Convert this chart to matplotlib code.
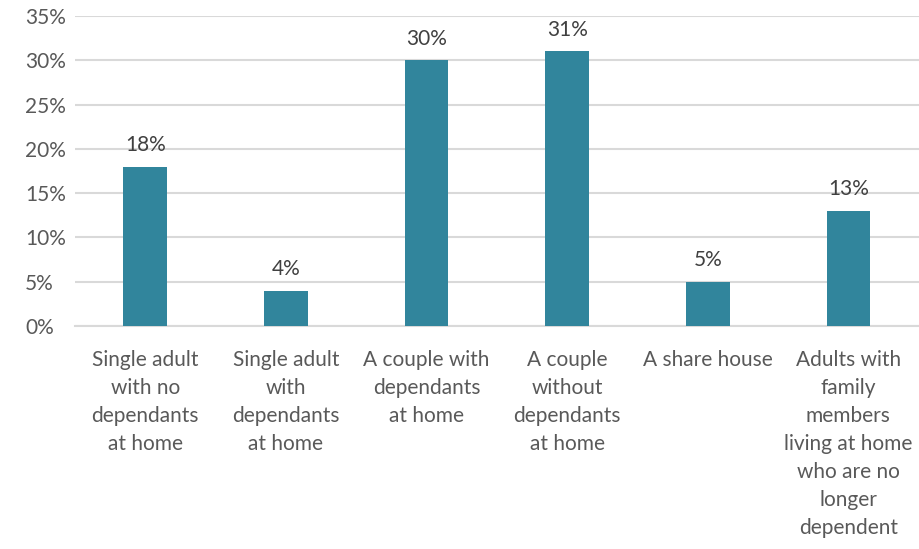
import matplotlib.pyplot as plt
from matplotlib.ticker import PercentFormatter

categories = [
    "Single adult\nwith no\ndependants\nat home",
    "Single adult\nwith\ndependants\nat home",
    "A couple with\ndependants\nat home",
    "A couple\nwithout\ndependants\nat home",
    "A share house",
    "Adults with\nfamily\nmembers\nliving at home\nwho are no\nlonger\ndependent",
]
values = [18, 4, 30, 31, 5, 13]
yticks = [0, 5, 10, 15, 20, 25, 30, 35]

plt.rcParams["font.family"] = ["Lato", "DejaVu Sans"]
text_color = "#595959"

fig = plt.figure(figsize=(9.19, 5.49), dpi=100)
ax = fig.add_axes([0.0816, 0.406, 0.918, 0.565])

x = list(range(len(values)))
ax.bar(x, values, width=0.31, color="#31859C", zorder=3)

for xi, v in zip(x, values):
    ax.text(xi, v + 1.3, f"{v}%", ha="center", va="bottom",
            fontsize=15, color="#404040")

ax.set_xlim(-0.5, len(values) - 0.5)
ax.set_ylim(0, 35)
ax.set_yticks(yticks)
ax.yaxis.set_major_formatter(PercentFormatter(decimals=0))
ax.set_xticks(x)
ax.set_xticklabels(categories, fontsize=15, color=text_color, linespacing=1.5)
ax.tick_params(axis="y", labelsize=15, labelcolor=text_color, length=0, pad=36)
ax.tick_params(axis="x", length=0, pad=17)

ax.grid(axis="y", color="#D9D9D9", linewidth=1.5, zorder=0)
for side in ["top", "right", "left"]:
    ax.spines[side].set_visible(False)
ax.spines["bottom"].set_color("#D9D9D9")
ax.spines["bottom"].set_linewidth(1.5)

for lbl in ax.get_yticklabels():
    lbl.set_horizontalalignment("left")

plt.savefig("out.png", dpi=100)
